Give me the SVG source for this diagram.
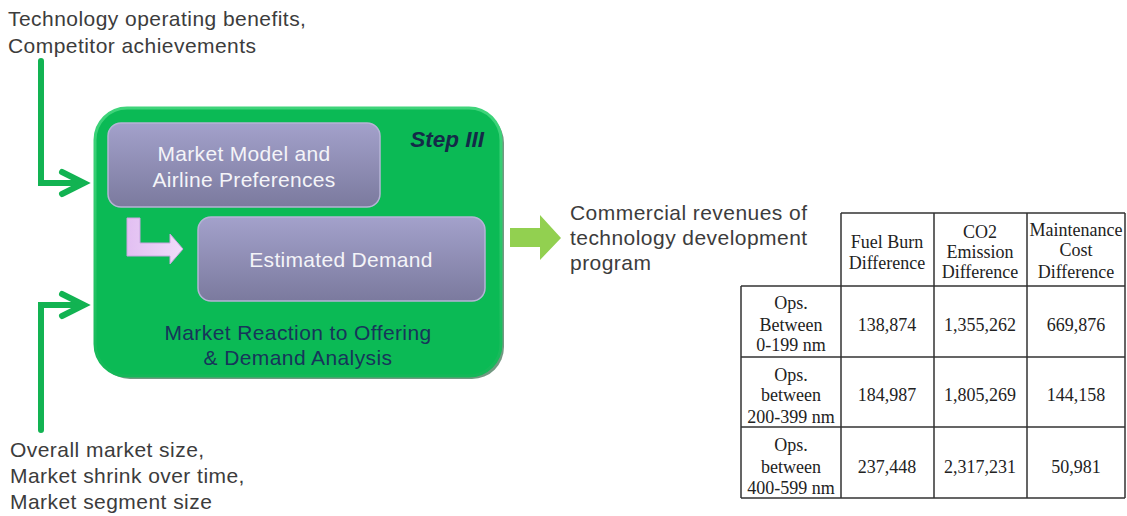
<svg xmlns="http://www.w3.org/2000/svg" width="1127" height="516" viewBox="0 0 1127 516">
<defs>
<linearGradient id="purp" x1="0" y1="0" x2="0" y2="1">
<stop offset="0" stop-color="#a3a1cb"/>
<stop offset="1" stop-color="#7b7a9e"/>
</linearGradient>
<linearGradient id="lav" x1="0" y1="0" x2="1" y2="0">
<stop offset="0" stop-color="#e2bff2"/>
<stop offset="1" stop-color="#f0dcfa"/>
</linearGradient>
<linearGradient id="gborder" x1="0" y1="0" x2="0" y2="1">
<stop offset="0" stop-color="#3fd47a"/>
<stop offset="1" stop-color="#14b858"/>
</linearGradient>
<style>
.lbl{font-family:"Liberation Sans",Arial,sans-serif;font-size:21px;letter-spacing:0.45px;fill:#3c3c3c}
.wt{font-family:"Liberation Sans",Arial,sans-serif;font-size:21px;letter-spacing:0.3px;fill:#f4f4f8;text-anchor:middle}
.nv{font-family:"Liberation Sans",Arial,sans-serif;font-size:21px;letter-spacing:0.4px;fill:#17355a;text-anchor:middle}
.tb{font-family:"Liberation Serif","Times New Roman",serif;font-size:18px;fill:#222;text-anchor:middle}
.gl{fill:none;stroke:#12b352;stroke-width:6;stroke-linecap:round;stroke-linejoin:miter}
.tl{stroke:#333;stroke-width:1.5;fill:none}
.pbox{fill:url(#purp);stroke:#b6b4d6;stroke-width:1.5}
</style>
</defs>
<rect width="1127" height="516" fill="#ffffff"/>

<g id="input-top">
<text class="lbl" x="8" y="26">Technology operating benefits,</text>
<text class="lbl" x="8" y="53">Competitor achievements</text>
</g>

<g id="input-bottom">
<text class="lbl" x="10" y="457">Overall market size,</text>
<text class="lbl" x="10" y="483">Market shrink over time,</text>
<text class="lbl" x="10" y="509">Market segment size</text>
</g>

<g id="step3">
<rect x="98" y="111" width="406" height="268" rx="32" fill="#4e7f62" opacity="0.8"/>
<rect x="95" y="108" width="406" height="268" rx="32" fill="#0bba55" stroke="url(#gborder)" stroke-width="3"/>
<text x="484" y="147" font-family="Liberation Sans,Arial,sans-serif" font-size="22.5" font-weight="bold" font-style="italic" fill="#142a48" text-anchor="end">Step III</text>
<text class="nv" x="298" y="340">Market Reaction to Offering</text>
<text class="nv" x="298" y="365">&amp; Demand Analysis</text>
</g>

<g id="market-model">
<rect class="pbox" x="108" y="123" width="272" height="84" rx="13"/>
<text class="wt" x="244" y="161">Market Model and</text>
<text class="wt" x="244" y="187">Airline Preferences</text>
</g>

<g id="estimated-demand">
<rect class="pbox" x="198" y="217" width="287" height="84" rx="13"/>
<text class="wt" x="341" y="267">Estimated Demand</text>
</g>

<g id="output">
<text class="lbl" x="570" y="220">Commercial revenues of</text>
<text class="lbl" x="570" y="245">technology development</text>
<text class="lbl" x="570" y="270">program</text>
</g>

<g id="connectors">
<path class="gl" d="M41 61 V183 H80"/>
<path class="gl" d="M62 172 L84 183 L62 194"/>
<path class="gl" d="M41 430 V305 H80"/>
<path class="gl" d="M62 294 L84 305 L62 316"/>
<path d="M127 218 H140 V243 H170 V234 L183 249 L170 264 V256 H127 Z" fill="url(#lav)" stroke="#c9a6e0" stroke-width="1"/>
<path d="M510 228 H540 V215 L561 238 L540 260 V247 H510 Z" fill="#92d050"/>
</g>

<g id="table">
<path class="tl" d="M841 213 H1125 M741 286 H1125 M741 357 H1125 M741 427 H1125 M741 498 H1125 M741 286 V498 M841 213 V498 M934 213 V498 M1027 213 V498 M1125 213 V498"/>
<text class="tb" x="887" y="248">Fuel Burn</text>
<text class="tb" x="887" y="269">Difference</text>
<text class="tb" x="980" y="238">CO2</text>
<text class="tb" x="980" y="258">Emission</text>
<text class="tb" x="980" y="278">Difference</text>
<text class="tb" x="1076" y="236">Maintenance</text>
<text class="tb" x="1076" y="256">Cost</text>
<text class="tb" x="1076" y="278">Difference</text>
<text class="tb" x="791" y="309">Ops.</text>
<text class="tb" x="791" y="331">Between</text>
<text class="tb" x="791" y="351">0-199 nm</text>
<text class="tb" x="887" y="331">138,874</text>
<text class="tb" x="980" y="331">1,355,262</text>
<text class="tb" x="1076" y="331">669,876</text>
<text class="tb" x="791" y="381">Ops.</text>
<text class="tb" x="791" y="401">between</text>
<text class="tb" x="791" y="423">200-399 nm</text>
<text class="tb" x="887" y="401">184,987</text>
<text class="tb" x="980" y="401">1,805,269</text>
<text class="tb" x="1076" y="401">144,158</text>
<text class="tb" x="791" y="451">Ops.</text>
<text class="tb" x="791" y="473">between</text>
<text class="tb" x="791" y="494">400-599 nm</text>
<text class="tb" x="887" y="473">237,448</text>
<text class="tb" x="980" y="473">2,317,231</text>
<text class="tb" x="1076" y="473">50,981</text>
</g>
</svg>
